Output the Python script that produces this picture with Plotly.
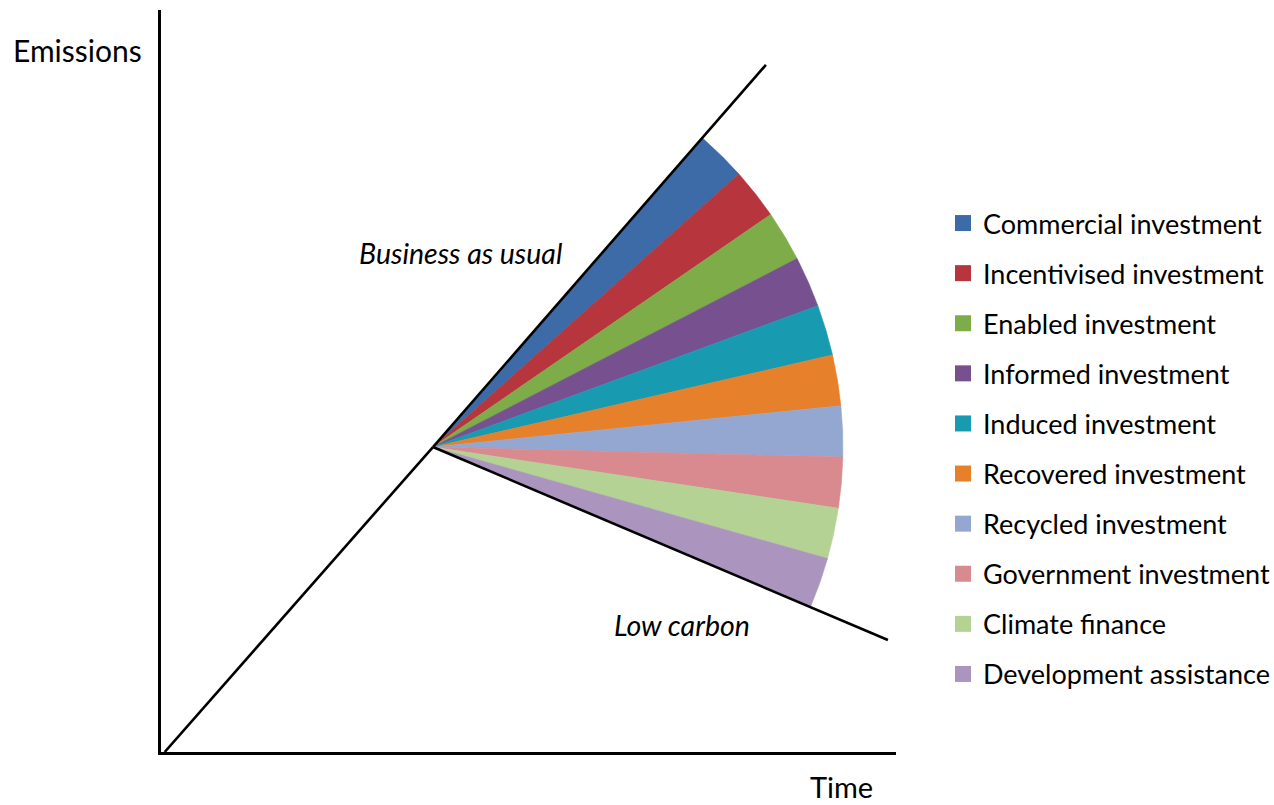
import numpy as np
import plotly.graph_objects as go

# ---- data -------------------------------------------------------------
categories = [
    "Commercial investment",
    "Incentivised investment",
    "Enabled investment",
    "Informed investment",
    "Induced investment",
    "Recovered investment",
    "Recycled investment",
    "Government investment",
    "Climate finance",
    "Development assistance",
]
# equal share of the abatement fan for each source of finance
shares = [1, 1, 1, 1, 1, 1, 1, 1, 1, 1]
colors = [
    "#3D6BA7", "#B7353C", "#7EAC49", "#76508F", "#189AB1",
    "#E7802A", "#93A7D0", "#D98A8E", "#B3D294", "#AB95BF",
]

# emissions trajectories (time, emissions)
history_time = [0.05, 3.70]
history_emis = [0.00, 4.11]
bau_time = [3.70, 8.23]
bau_emis = [4.11, 9.26]
low_time = [3.70, 9.89]
low_emis = [4.11, 1.51]

# ---- layout geometry ---------------------------------------------------
W, H = 1274, 805
M_L, M_R, M_T, M_B = 161, 378, 10, 53
X_RANGE = [0, 10]
Y_RANGE = [0, 10]
px_x = (W - M_L - M_R) / (X_RANGE[1] - X_RANGE[0])
px_y = (H - M_T - M_B) / (Y_RANGE[1] - Y_RANGE[0])
FAN_RADIUS_PX = 410

# fan of wedges between the BAU and low-carbon paths, in screen space
x0, y0 = bau_time[0], bau_emis[0]
ang_top = np.arctan2((bau_emis[1] - y0) * px_y, (bau_time[1] - x0) * px_x)
ang_bot = np.arctan2((low_emis[1] - y0) * px_y, (low_time[1] - x0) * px_x)
cum = np.concatenate([[0], np.cumsum(shares)]) / np.sum(shares)
edges = ang_top + (ang_bot - ang_top) * cum

fig = go.Figure()

for i, name in enumerate(categories):
    a = np.linspace(edges[i], edges[i + 1], 40)
    xs = np.concatenate([[x0], x0 + FAN_RADIUS_PX * np.cos(a) / px_x, [x0]])
    ys = np.concatenate([[y0], y0 + FAN_RADIUS_PX * np.sin(a) / px_y, [y0]])
    fig.add_trace(go.Scatter(
        x=xs, y=ys, mode="lines", fill="toself",
        fillcolor=colors[i], line=dict(width=0.6, color=colors[i]),
        showlegend=False, hoverinfo="skip",
    ))

# trajectory lines
for tx, ty in [(history_time, history_emis), (bau_time, bau_emis), (low_time, low_emis)]:
    fig.add_trace(go.Scatter(
        x=tx, y=ty, mode="lines", line=dict(color="black", width=2.6),
        showlegend=False, hoverinfo="skip",
    ))

# legend entries
for i, name in enumerate(categories):
    fig.add_trace(go.Scatter(
        x=[None], y=[None], mode="markers", name=name, legendgroup=name,
        marker=dict(symbol="square", size=17, color=colors[i],
                    line=dict(width=0)),
    ))

FONT = "Lato"
fig.add_annotation(x=0.0, y=1.0, xref="paper", yref="paper", text="Emissions",
                   showarrow=False, xanchor="right", yanchor="top",
                   xshift=-17, yshift=-20, font=dict(size=30, family=FONT, color="black"))
fig.add_annotation(x=0.9265, y=0.0, xref="paper", yref="paper", text="Time",
                   showarrow=False, xanchor="center", yanchor="top",
                   yshift=-15, font=dict(size=29, family=FONT, color="black"))
fig.add_annotation(x=4.08, y=6.73, text="<i>Business as usual</i>", showarrow=False,
                   font=dict(size=28.5, family=FONT, color="black"))
fig.add_annotation(x=7.09, y=1.71, text="<i>Low carbon</i>", showarrow=False,
                   font=dict(size=28.5, family=FONT, color="black"))

fig.update_layout(
    width=W, height=H,
    margin=dict(l=M_L, r=M_R, t=M_T, b=M_B),
    paper_bgcolor="white", plot_bgcolor="white",
    xaxis=dict(range=X_RANGE, showgrid=False, zeroline=False, showticklabels=False,
               ticks="", showline=True, linecolor="black", linewidth=2.6, fixedrange=True),
    yaxis=dict(range=Y_RANGE, showgrid=False, zeroline=False, showticklabels=False,
               ticks="", showline=True, linecolor="black", linewidth=2.6, fixedrange=True),
    legend=dict(
        xref="container", yref="container",
        x=943 / W, y=1 - 199 / H, xanchor="left", yanchor="top",
        font=dict(size=27, family=FONT, color="black"),
        tracegroupgap=12, traceorder="grouped", itemsizing="trace",
        bgcolor="rgba(0,0,0,0)", maxheight=780,
    ),
    showlegend=True,
)

fig.write_html("out.html")
